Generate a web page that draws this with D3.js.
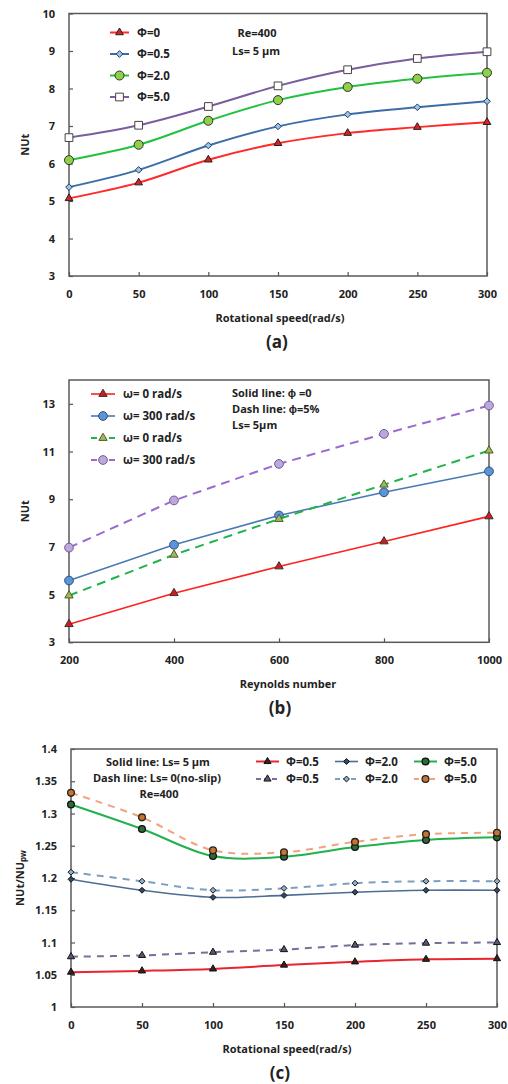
<!DOCTYPE html>
<html>
<head>
<meta charset="utf-8">
<script src="https://cdn.jsdelivr.net/npm/d3@7"></script>
<style>
  body { margin: 0; background: #fff; }
  svg { display: block; }
  text { font-family: 'Open Sans', 'Liberation Sans', sans-serif; font-weight: 700; fill: #222; }
</style>
</head>
<body>
<svg id="chart" width="508" height="1084"></svg>
<script>
// ---- data: panel (a), NUt vs rotational speed, Re=400, Ls=5 um
const speeds = [0, 50, 100, 150, 200, 250, 300]
const nuPhi0 = [5.07, 5.49, 6.1, 6.54, 6.81, 6.97, 7.1]
const nuPhi05 = [5.37, 5.83, 6.48, 6.99, 7.31, 7.5, 7.66]
const nuPhi2 = [6.09, 6.5, 7.14, 7.69, 8.04, 8.26, 8.42]
const nuPhi5 = [6.69, 7.02, 7.52, 8.07, 8.5, 8.8, 8.98]
const aTicksY = [3, 4, 5, 6, 7, 8, 9, 10]

// ---- data: panel (b), NUt vs Reynolds number
const reynolds = [200, 400, 600, 800, 1000]
const nuW0Solid = [3.76, 5.06, 6.18, 7.23, 8.28]
const nuW300Solid = [5.59, 7.09, 8.32, 9.29, 10.17]
const nuW0Dash = [4.96, 6.67, 8.17, 9.61, 11.04]
const nuW300Dash = [6.97, 8.95, 10.48, 11.74, 12.93]
const bTicksY = [3, 5, 7, 9, 11, 13]

// ---- data: panel (c), NUt/NUpw vs rotational speed
const ratioPhi05Slip = [1.054, 1.056, 1.059, 1.065, 1.07, 1.074, 1.075]
const ratioPhi2Slip = [1.198, 1.181, 1.17, 1.173, 1.178, 1.181, 1.181]
const ratioPhi5Slip = [1.314, 1.276, 1.234, 1.233, 1.248, 1.259, 1.263]
const ratioPhi05NoSlip = [1.078, 1.08, 1.085, 1.089, 1.096, 1.099, 1.1]
const ratioPhi2NoSlip = [1.209, 1.195, 1.181, 1.184, 1.192, 1.195, 1.195]
const ratioPhi5NoSlip = [1.332, 1.294, 1.243, 1.24, 1.256, 1.268, 1.27]
const cTicksY = [1, 1.05, 1.1, 1.15, 1.2, 1.25, 1.3, 1.35, 1.4]

const svg = d3.select('#chart')

const symbolOf = {
  triangle: d3.symbolTriangle,
  diamond: d3.symbolDiamond2,
  circle: d3.symbolCircle,
  square: d3.symbolSquare,
}

// plain number labels, no thousands comma, no trailing zeros
const plain = (d) => String(+d.toFixed(2))

function marker(sel, s) {
  return sel
    .attr('d', d3.symbol().type(symbolOf[s.shape]).size(s.size)())
    .attr('fill', s.fill)
    .attr('stroke', s.edge)
    .attr('stroke-width', s.edgeWidth || 1)
}

// generic panel drawer
function drawPanel(p) {
  const g = svg.append('g').attr('id', p.id)

  const x = d3.scaleLinear().domain(p.xDomain).range([p.left, p.right])
  const y = d3.scaleLinear().domain(p.yDomain).range([p.bottom, p.top])

  // axes, ticks pointing inwards
  const yAxis = g
    .append('g')
    .attr('transform', `translate(${p.left},0)`)
    .call(
      d3.axisLeft(y).tickValues(p.yTicks).tickFormat(plain)
        .tickSize(-4).tickPadding(14).tickSizeOuter(0)
    )
  const xAxis = g
    .append('g')
    .attr('transform', `translate(0,${p.bottom})`)
    .call(
      d3.axisBottom(x).tickValues(p.xTicks).tickFormat(plain)
        .tickSize(-4).tickPadding(14).tickSizeOuter(0)
    )
  ;[yAxis, xAxis].forEach((a) => {
    a.select('.domain').remove()
    a.selectAll('line').attr('stroke', '#555').attr('stroke-width', 1.2)
    a.selectAll('text')
      .attr('font-family', "'Open Sans', sans-serif")
      .attr('font-weight', 700)
      .attr('font-size', 11)
      .attr('fill', '#222')
  })

  // frame
  g.append('rect')
    .attr('x', p.left)
    .attr('y', p.top)
    .attr('width', p.right - p.left)
    .attr('height', p.bottom - p.top)
    .attr('fill', 'none')
    .attr('stroke', '#595959')
    .attr('stroke-width', 1.5)

  // series
  const line = d3
    .line()
    .x((d) => x(d[0]))
    .y((d) => y(d[1]))
    .curve(p.curve)

  p.series.forEach((s) => {
    const pts = p.xValues.map((v, i) => [v, s.values[i]])
    g.append('path')
      .attr('d', line(pts))
      .attr('fill', 'none')
      .attr('stroke', s.color)
      .attr('stroke-width', s.width || 2)
      .attr('stroke-dasharray', s.dash || null)
    g.append('g')
      .selectAll('path')
      .data(pts)
      .join('path')
      .attr('transform', (d) => `translate(${x(d[0])},${y(d[1])})`)
      .call(marker, s)
  })

  // legend
  p.series.forEach((s) => {
    const lg = g.append('g').attr('transform', `translate(${s.lx},${s.ly})`)
    lg.append('line')
      .attr('x1', 0)
      .attr('x2', p.legendLine)
      .attr('stroke', s.color)
      .attr('stroke-width', s.width || 2)
      .attr('stroke-dasharray', s.legendDash || null)
    lg.append('path')
      .attr('transform', `translate(${p.legendLine / 2},0)`)
      .call(marker, s)
    lg.append('text')
      .attr('x', p.legendLine + p.legendGap)
      .attr('dy', '0.35em')
      .attr('font-size', 11.5)
      .text(s.name)
  })

  // free notes
  p.notes.forEach((n) => {
    g.append('text')
      .attr('x', n.x)
      .attr('y', n.y)
      .attr('dy', '0.35em')
      .attr('text-anchor', n.anchor || 'start')
      .attr('font-size', 11)
      .text(n.text)
  })

  // axis titles
  g.append('text')
    .attr('x', p.xTitleX)
    .attr('y', p.xTitleY)
    .attr('dy', '0.35em')
    .attr('text-anchor', 'middle')
    .attr('font-size', 11)
    .text(p.xTitle)

  const yt = g
    .append('text')
    .attr('transform', `translate(${p.yTitleX},${(p.top + p.bottom) / 2}) rotate(-90)`)
    .attr('dy', '0.35em')
    .attr('text-anchor', 'middle')
    .attr('font-size', 11)
  yt.append('tspan').text(p.yTitle)
  if (p.yTitleSub) {
    yt.append('tspan').attr('font-size', 8).attr('dy', '0.3em').text(p.yTitleSub)
  }

  // panel letter
  g.append('text')
    .attr('x', p.letterX)
    .attr('y', p.letterY)
    .attr('dy', '0.35em')
    .attr('text-anchor', 'middle')
    .attr('font-family', "'Liberation Serif', 'DejaVu Serif', serif")
    .attr('font-weight', 700)
    .attr('font-size', 17)
    .text(p.letter)
}

// ---- panel (a)
drawPanel({
  id: 'panelA',
  left: 69, right: 487, top: 13.5, bottom: 276,
  xDomain: [0, 300], yDomain: [3, 10],
  xTicks: speeds, yTicks: aTicksY, xValues: speeds,
  curve: d3.curveCatmullRom,
  legendLine: 19, legendGap: 8,
  series: [
    { name: 'Φ=0', values: nuPhi0, color: '#ff2a2a', shape: 'triangle', size: 26, fill: '#e02020', edge: '#222', lx: 110, ly: 32.5 },
    { name: 'Φ=0.5', values: nuPhi05, color: '#3b6ea8', shape: 'diamond', size: 28, fill: '#9cc3ea', edge: '#1f3a5c', lx: 110, ly: 54 },
    { name: 'Φ=2.0', values: nuPhi2, color: '#22c23f', shape: 'circle', size: 64, fill: '#8ed046', edge: '#333', lx: 110, ly: 75.5 },
    { name: 'Φ=5.0', values: nuPhi5, color: '#7a5c9f', shape: 'square', size: 60, fill: '#fff', edge: '#444', lx: 110, ly: 97 },
  ],
  notes: [
    { text: 'Re=400', x: 257, y: 33, anchor: 'middle' },
    { text: 'Ls= 5 μm', x: 256, y: 51, anchor: 'middle' },
  ],
  xTitle: 'Rotational speed(rad/s)', xTitleX: 280, xTitleY: 318,
  yTitle: 'NUt', yTitleX: 25,
  letter: '(a)', letterX: 277, letterY: 342,
})

// ---- panel (b)
drawPanel({
  id: 'panelB',
  left: 69, right: 489, top: 380, bottom: 642.3,
  xDomain: [200, 1000], yDomain: [3, 14],
  xTicks: reynolds, yTicks: bTicksY, xValues: reynolds,
  curve: d3.curveLinear,
  legendLine: 24, legendGap: 8,
  series: [
    { name: 'ω= 0 rad/s', values: nuW0Solid, color: '#ff2020', width: 1.6, shape: 'triangle', size: 30, fill: '#d8191c', edge: '#333', lx: 91, ly: 394 },
    { name: 'ω= 300 rad/s', values: nuW300Solid, color: '#4a7ab4', width: 1.6, shape: 'circle', size: 60, fill: '#5b95d8', edge: '#2c4f7c', lx: 91, ly: 416 },
    { name: 'ω= 0 rad/s', values: nuW0Dash, color: '#1fb34a', width: 2, dash: '9,6', legendDash: '6,3', shape: 'triangle', size: 30, fill: '#9fb85a', edge: '#4d5e2a', lx: 91, ly: 438 },
    { name: 'ω= 300 rad/s', values: nuW300Dash, color: '#9b6ad0', width: 2, dash: '9,6', legendDash: '6,3', shape: 'circle', size: 60, fill: '#bba9dc', edge: '#6f5a94', lx: 91, ly: 460 },
  ],
  notes: [
    { text: 'Solid line: ϕ =0', x: 232, y: 393 },
    { text: 'Dash line: ϕ=5%', x: 232, y: 409 },
    { text: 'Ls= 5μm', x: 232, y: 425.5 },
  ],
  xTitle: 'Reynolds number', xTitleX: 288, xTitleY: 684,
  yTitle: 'NUt', yTitleX: 25,
  letter: '(b)', letterX: 280, letterY: 708,
})

// ---- panel (c)
drawPanel({
  id: 'panelC',
  left: 71, right: 497, top: 749, bottom: 1007,
  xDomain: [0, 300], yDomain: [1, 1.4],
  xTicks: speeds, yTicks: cTicksY, xValues: speeds,
  curve: d3.curveCatmullRom,
  legendLine: 23, legendGap: 7,
  series: [
    { name: 'Φ=0.5', values: ratioPhi05Slip, color: '#e8262b', width: 2, shape: 'triangle', size: 22, fill: '#3a2020', edge: '#111', lx: 256, ly: 761.5 },
    { name: 'Φ=2.0', values: ratioPhi2Slip, color: '#4d6d94', width: 1.6, shape: 'diamond', size: 22, fill: '#33496a', edge: '#111', lx: 335, ly: 761.5 },
    { name: 'Φ=5.0', values: ratioPhi5Slip, color: '#22b14c', width: 2, shape: 'circle', size: 36, fill: '#2e6a35', edge: '#111', edgeWidth: 1.3, lx: 414, ly: 761.5 },
    { name: 'Φ=0.5', values: ratioPhi05NoSlip, color: '#7b6c9c', width: 2, dash: '7,6', legendDash: '5,3', shape: 'triangle', size: 22, fill: '#595875', edge: '#111', lx: 256, ly: 779 },
    { name: 'Φ=2.0', values: ratioPhi2NoSlip, color: '#7d9fc0', width: 2, dash: '7,6', legendDash: '5,3', shape: 'diamond', size: 22, fill: '#8fb0cc', edge: '#111', lx: 335, ly: 779 },
    { name: 'Φ=5.0', values: ratioPhi5NoSlip, color: '#f2a27f', width: 2, dash: '7,6', legendDash: '5,3', shape: 'circle', size: 36, fill: '#c8742e', edge: '#222', edgeWidth: 1.3, lx: 414, ly: 779 },
  ],
  notes: [
    { text: 'Solid line: Ls= 5 μm', x: 158, y: 762, anchor: 'middle' },
    { text: 'Dash line: Ls= 0(no-slip)', x: 157, y: 778, anchor: 'middle' },
    { text: 'Re=400', x: 159, y: 794, anchor: 'middle' },
  ],
  xTitle: 'Rotational speed(rad/s)', xTitleX: 287, xTitleY: 1049,
  yTitle: 'NUt/NU', yTitleSub: 'pw', yTitleX: 20,
  letter: '(c)', letterX: 280, letterY: 1073,
})
</script>
</body>
</html>
